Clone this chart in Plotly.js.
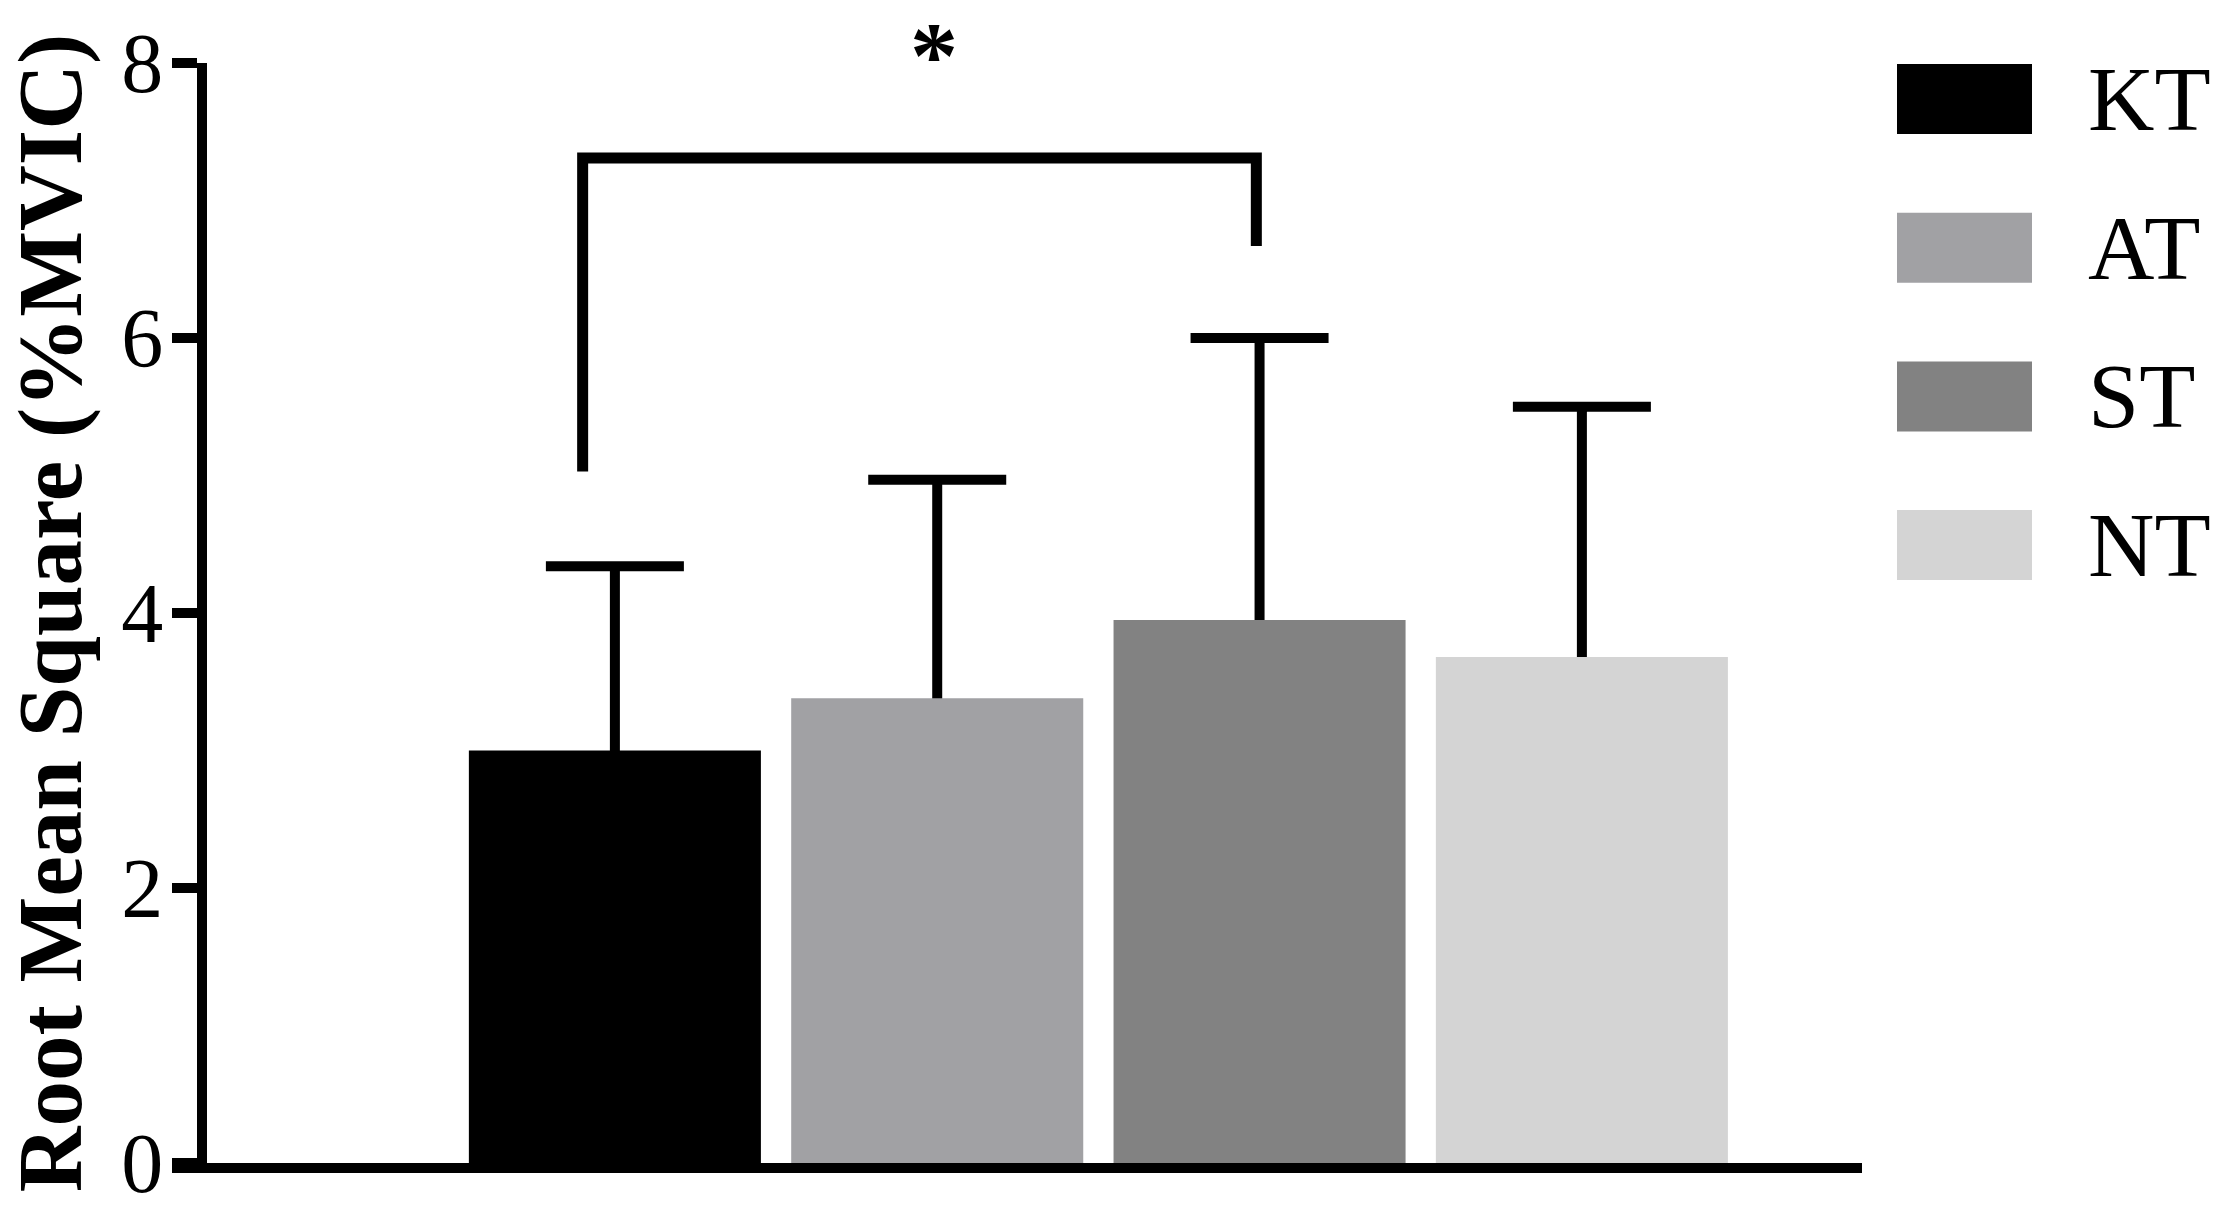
<!DOCTYPE html>
<html>
<head>
<meta charset="utf-8">
<script src="https://cdn.plot.ly/plotly-3.0.1.min.js"></script>
<style>html,body{margin:0;padding:0;background:#fff;}#chart{width:2217px;height:1216px;}</style>
</head>
<body>
<div id="chart"></div>
<script>
// ---- data ----
const categories = ['KT', 'AT', 'ST', 'NT'];
const rmsMean = [3.00, 3.38, 3.95, 3.68];
const rmsSD = [1.34, 1.59, 2.05, 1.82];
const barColors = ['#000000', '#a1a1a4', '#828282', '#d4d4d4'];
const yTickVals = [0, 2, 4, 6, 8];
// significance bracket (KT vs ST)
const bracketX = [-0.1, 1.99];
const bracketYBottom = [5.03, 6.67];
const bracketYTop = 7.31;
const sigLabel = '*';

// ---- layout geometry ----
const W = 2217, Hh = 1216;
const M = {l: 172, r: 355, t: 63, b: 53};
const PW = W - M.l - M.r, PH = Hh - M.t - M.b;
const px2x = p => (p - M.l) / PW;
const py2y = p => (Hh - M.b - p) / PH;
const serif = 'Liberation Serif, Times New Roman, serif';
const BAR_W = 0.906;

// error bars first (symmetric; lower half is hidden behind the bars drawn afterwards)
const errTraces = categories.map((c, i) => ({
  type: 'bar',
  x: [c],
  y: [rmsMean[i]],
  name: c + ' SD',
  width: BAR_W,
  marker: {color: 'rgba(0,0,0,0)', line: {width: 0}},
  error_y: {
    type: 'data', symmetric: true, array: [rmsSD[i]],
    color: '#000000', thickness: 10, width: 69
  },
  showlegend: false,
  hoverinfo: 'skip'
}));

const barTraces = categories.map((c, i) => ({
  type: 'bar',
  x: [c],
  y: [rmsMean[i]],
  name: c,
  width: BAR_W,
  marker: {color: barColors[i], line: {width: 0}},
  showlegend: false,
  hoverinfo: 'skip'
}));

const shapes = [];
const annotations = [];

// bracket
shapes.push({
  type: 'path', xref: 'x', yref: 'y',
  path: `M ${bracketX[0]},${bracketYBottom[0]} L ${bracketX[0]},${bracketYTop} L ${bracketX[1]},${bracketYTop} L ${bracketX[1]},${bracketYBottom[1]}`,
  line: {color: '#000000', width: 11}
});
annotations.push({
  xref: 'x', yref: 'paper', x: 0.99, y: py2y(1),
  text: sigLabel, showarrow: false,
  xanchor: 'center', yanchor: 'top', borderpad: 0,
  font: {family: serif, size: 96, color: '#000000', weight: 'bold'}
});

// legend (drawn manually to match large swatches)
categories.forEach((c, i) => {
  const top = 64 + i * 148.7;
  shapes.push({
    type: 'rect', xref: 'paper', yref: 'paper',
    x0: px2x(1897), x1: px2x(2032), y0: py2y(top + 70), y1: py2y(top),
    fillcolor: barColors[i], line: {width: 0}
  });
  annotations.push({
    xref: 'paper', yref: 'paper', x: px2x(2086), y: py2y(top + 35),
    text: c, showarrow: false, xanchor: 'left', yanchor: 'middle',
    font: {family: serif, size: 92, color: '#000000'}
  });
});

const layout = {
  width: W, height: Hh,
  margin: M,
  paper_bgcolor: '#ffffff', plot_bgcolor: '#ffffff',
  barmode: 'overlay',
  showlegend: false,
  xaxis: {
    type: 'category', categoryorder: 'array', categoryarray: categories,
    range: [-1.374, 3.869],
    showline: true, linecolor: '#000000', linewidth: 10,
    showticklabels: false, ticks: '', showgrid: false, zeroline: false,
    fixedrange: true
  },
  yaxis: {
    range: [0, 8],
    anchor: 'free', position: px2x(202),
    tickvals: yTickVals, ticktext: yTickVals.map(String),
    ticks: 'outside', ticklen: 25, tickwidth: 10, tickcolor: '#000000',
    ticklabelstandoff: -8,
    showline: true, linecolor: '#000000', linewidth: 10,
    showgrid: false, zeroline: false,
    tickfont: {family: serif, size: 84, color: '#000000'},
    title: {
      text: 'Root Mean Square (%MVIC)',
      font: {family: serif, size: 91, color: '#000000', weight: 'bold'},
      standoff: 42
    },
    fixedrange: true
  },
  shapes: shapes,
  annotations: annotations
};

Plotly.newPlot('chart', errTraces.concat(barTraces), layout, {displayModeBar: false, staticPlot: true});
</script>
</body>
</html>
